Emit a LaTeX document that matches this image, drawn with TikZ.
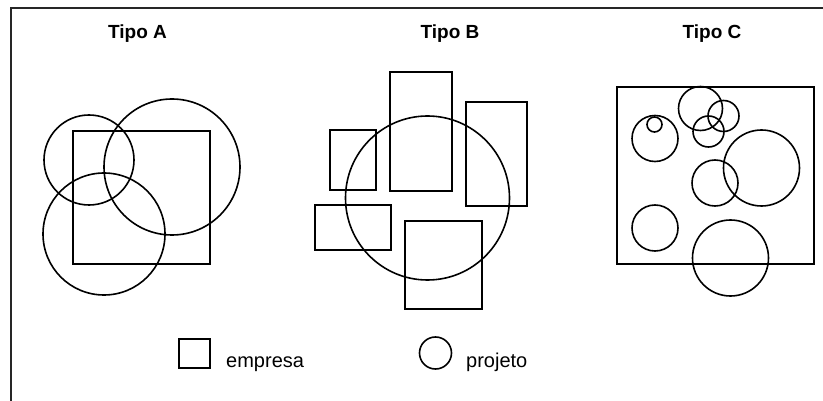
\documentclass[tikz,border=0pt]{standalone}
\usepackage{fontspec}
\setmainfont{Liberation Sans}
\begin{document}
\begin{tikzpicture}[x=1pt,y=-1pt,
  outl/.style={line width=1.6pt, draw=black},
  frame/.style={line width=1.8pt, draw=black!85},
  title/.style={font=\fontsize{19}{21}\selectfont\bfseries, inner sep=0pt, anchor=base},
  legend/.style={font=\fontsize{20}{22}\selectfont, inner sep=0pt, anchor=base west}]
\useasboundingbox (0,0) rectangle (823,401);
% frame
\draw[frame] (11,401) -- (11,8) -- (823,8);
% Tipo A
\node[title] (tA) at (137.5,39) {Tipo A};
\draw[outl] (73,131) rectangle (210,264);
\draw[outl] (89,160) circle[radius=45pt];
\draw[outl] (172,167) circle[radius=68pt];
\draw[outl] (104,234) circle[radius=61pt];
% Tipo B
\node[title] (tB) at (450,39) {Tipo B};
\draw[outl] (390,72) rectangle (452,191);
\draw[outl] (466,102) rectangle (527,206);
\draw[outl] (330,130) rectangle (376,190);
\draw[outl] (315,205) rectangle (391,250);
\draw[outl] (405,221) rectangle (482,309);
\draw[outl] (427.5,198) circle[radius=82pt];
% Tipo C
\node[title] (tC) at (712,39) {Tipo C};
\draw[outl] (617,87) rectangle (814,264);
\draw[outl] (700.5,108.5) circle[radius=22pt];
\draw[outl] (723.5,116) circle[radius=15.5pt];
\draw[outl] (708.5,131.5) circle[radius=15.5pt];
\draw[outl] (655,138.5) circle[radius=23pt];
\draw[outl] (654.5,124.5) circle[radius=7.5pt];
\draw[outl] (761.5,168) circle[radius=38pt];
\draw[outl] (715,183) circle[radius=23pt];
\draw[outl] (655,228) circle[radius=23pt];
\draw[outl] (730.5,258) circle[radius=38pt];
% legend
\draw[outl] (179,339) rectangle (210,368);
\node[legend] (le) at (226,367) {empresa};
\draw[outl] (435.5,353) circle[radius=16pt];
\node[legend] (lp) at (466,367) {projeto};
\end{tikzpicture}
\end{document}
